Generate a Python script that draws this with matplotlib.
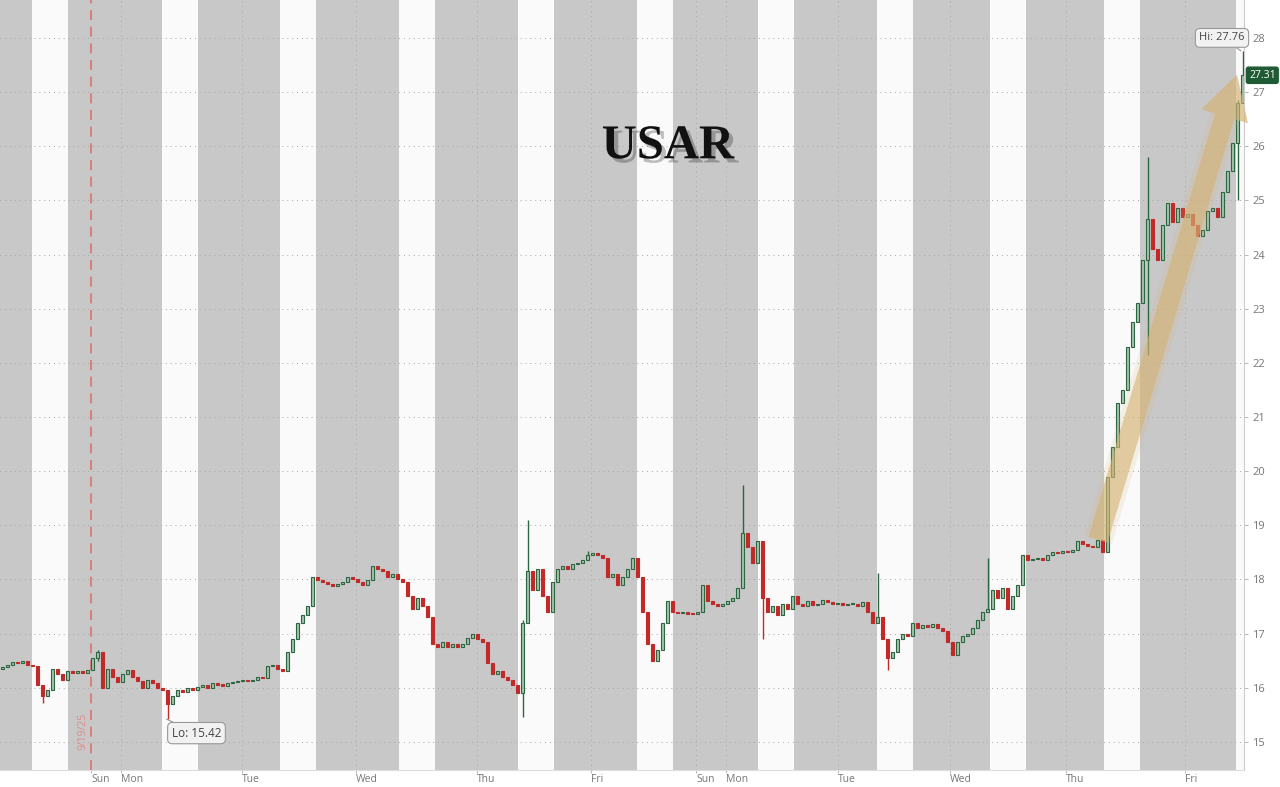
import numpy as np
import matplotlib
matplotlib.use("Agg")
import matplotlib.pyplot as plt
import matplotlib.patheffects as pe

# closing prices, one bar per interval (oldest first)
closes = [
    16.38, 16.42, 16.48, 16.45, 16.50, 16.42, 16.40, 16.05, 15.85, 15.95,
    16.35, 16.25, 16.15, 16.30, 16.28, 16.30, 16.27, 16.32, 16.55, 16.66,
    16.00, 16.35, 16.20, 16.10, 16.25, 16.32, 16.20, 16.12, 16.00, 16.15,
    16.08, 16.00, 15.95, 15.70, 15.85, 15.95, 15.92, 16.00, 15.95, 16.02,
    16.05, 16.00, 16.08, 16.05, 16.04, 16.08, 16.10, 16.12, 16.15, 16.13,
    16.15, 16.20, 16.18, 16.40, 16.42, 16.35, 16.30, 16.65, 16.90, 17.20,
    17.35, 17.50, 18.05, 17.98, 17.95, 17.92, 17.88, 17.92, 17.95, 18.05,
    18.00, 17.95, 17.90, 17.98, 18.25, 18.20, 18.15, 18.05, 18.10, 18.00,
    17.95, 17.70, 17.45, 17.65, 17.50, 17.30, 16.80, 16.75, 16.85, 16.75,
    16.80, 16.75, 16.80, 16.92, 17.00, 16.90, 16.85, 16.45, 16.25, 16.30,
    16.20, 16.15, 16.05, 15.90, 17.20, 18.15, 17.80, 18.20, 17.70, 17.40,
    17.95, 18.20, 18.25, 18.20, 18.28, 18.30, 18.35, 18.45, 18.48, 18.45,
    18.40, 18.05, 18.10, 17.90, 18.05, 18.20, 18.40, 18.05, 17.40, 16.80,
    16.50, 16.70, 17.20, 17.60, 17.40, 17.38, 17.38, 17.37, 17.36, 17.40,
    17.90, 17.60, 17.55, 17.50, 17.55, 17.60, 17.65, 17.85, 18.85, 18.60,
    18.30, 18.70, 17.65, 17.40, 17.50, 17.35, 17.55, 17.45, 17.70, 17.55,
    17.50, 17.60, 17.52, 17.55, 17.62, 17.58, 17.55, 17.57, 17.52, 17.55,
    17.55, 17.50, 17.58, 17.40, 17.20, 17.30, 16.90, 16.55, 16.65, 16.90,
    17.00, 16.95, 17.20, 17.10, 17.15, 17.12, 17.18, 17.10, 17.05, 16.85,
    16.60, 16.85, 16.95, 17.00, 17.10, 17.25, 17.40, 17.45, 17.80, 17.65,
    17.85, 17.45, 17.70, 17.90, 18.45, 18.35, 18.38, 18.40, 18.35, 18.45,
    18.50, 18.48, 18.52, 18.50, 18.55, 18.70, 18.65, 18.62, 18.60, 18.72,
    18.50, 19.90, 20.45, 21.25, 21.50, 22.30, 22.75, 23.10, 23.90, 24.65,
    24.10, 23.90, 24.55, 24.95, 24.60, 24.85, 24.70, 24.75, 24.55, 24.35,
    24.45, 24.80, 24.85, 24.70, 25.15, 25.55, 26.05, 26.80, 27.31,
]
first_open = 16.35

# notable wicks: bar -> (high, low)
wicks = {
    8: (15.95, 15.72), 19: (16.70, 16.50), 33: (15.95, 15.42),
    104: (17.25, 15.45), 105: (19.10, 17.20), 117: (18.52, 18.35),
    148: (19.75, 17.85), 152: (18.70, 16.90), 175: (18.12, 17.20),
    177: (16.90, 16.33), 197: (18.40, 17.40), 229: (25.80, 22.15),
    247: (26.85, 25.00), 248: (27.76, 26.80),
}

# regular-session (white) bands, in bar units
sessions = [(6.4, 13.6), (32.4, 39.6), (56.0, 63.2), (79.8, 87.0), (103.6, 110.8),
            (127.4, 134.6), (151.6, 158.8), (175.4, 182.6), (198.0, 205.2),
            (220.8, 228.0), (247.2, 248.8)]

day_pos = [18.2, 24.2, 48.4, 71.2, 95.4, 118.2, 139.2, 145.2, 167.6, 190.0, 213.2, 237.0]
day_lbl = ["Sun", "Mon", "Tue", "Wed", "Thu", "Fri", "Sun", "Mon", "Tue", "Wed", "Thu", "Fri"]
marker_pos = 18.2
marker_lbl = "9/19/25"
lo_bar, lo_val = 33, 15.42
hi_bar, hi_val = 248, 27.76
last_val = 27.31
arrow_from = (219.6, 18.73)
arrow_to = (247.4, 27.32)

up_edge = "#2a6640"
up_face = "#a3c2aa"
dn_col = "#c22a2a"

fig = plt.figure(figsize=(12.8, 7.87), dpi=100)
ax = fig.add_axes([0.0, 17 / 787, 1244 / 1280, 770 / 787])
ax.set_facecolor("#c8c8c8")
ax.set_xlim(0, 248.8)
ax.set_ylim(14.48, 28.70)

for a, b in sessions:
    ax.axvspan(a, b, color="#fafafa", zorder=0, lw=0)

for y in range(15, 29):
    ax.axhline(y, color="#a6a6a6", lw=0.7, ls=(0, (1, 4)), zorder=1)
for x in day_pos[1:]:
    ax.axvline(x, color="#a6a6a6", lw=0.7, ls=(0, (1, 4)), zorder=1)

ax.axvline(marker_pos, color="#e07070", lw=1.2, ls=(0, (6, 4)), zorder=2)
ax.text(marker_pos - 0.4, 0.05, marker_lbl, rotation=90, ha="right", va="center",
        color="#e08a8a", fontsize=7.5, family="Open Sans",
        transform=ax.get_xaxis_transform())

# candles
closes = np.array(closes)
opens = np.concatenate([[first_open], closes[:-1]])
xs = np.arange(len(closes)) + 0.5
for i, (o, c) in enumerate(zip(opens, closes)):
    hi, lo = wicks.get(i, (max(o, c), min(o, c)))
    up = c >= o
    col = up_edge if up else dn_col
    ax.vlines(xs[i], lo, hi, color=col, lw=1.0, zorder=3)
    h = max(abs(c - o), 0.02)
    ax.bar(xs[i], h, bottom=min(o, c), width=0.7,
           color=up_face if up else dn_col, edgecolor=col, lw=0.8, zorder=4)

# trend arrow, a few soft layers
for tw, al in [(1.6, 0.15), (1.1, 0.6)]:
    ax.annotate("", xy=arrow_to, xytext=arrow_from,
                arrowprops=dict(arrowstyle=f"simple,head_length=2.4,head_width=2.7,tail_width={tw}",
                                color="#d6b272", alpha=al, lw=0,
                                mutation_scale=13, shrinkA=0, shrinkB=0),
                zorder=5)

# title
ax.text(0.537, 0.81, "USAR", transform=ax.transAxes, ha="center", va="center",
        fontsize=35, fontweight="bold", family="Liberation Serif", color="#111111",
        path_effects=[pe.withSimplePatchShadow(offset=(3, -3), shadow_rgbFace="#000000", alpha=0.25)],
        zorder=6)

box = dict(boxstyle="round,pad=0.35,rounding_size=0.4", fc="#f2f2f2", ec="#999999", lw=0.8)
ax.annotate(f"Lo: {lo_val:.2f}", xy=(lo_bar + 0.3, lo_val), xytext=(30, -14),
            textcoords="offset pixels", ha="center", va="center", fontsize=8.5,
            family="Open Sans", color="#444444", bbox=box,
            arrowprops=dict(arrowstyle="-", color="#999999", lw=0.8, shrinkA=0, shrinkB=0),
            zorder=7)
ax.annotate(f"Hi: {hi_val:.2f}", xy=(hi_bar + 0.2, hi_val), xytext=(-19, 13),
            textcoords="offset pixels", ha="center", va="center", fontsize=8,
            family="Open Sans", color="#444444", bbox=box,
            arrowprops=dict(arrowstyle="-", color="#999999", lw=0.8, shrinkA=0, shrinkB=0),
            zorder=7)

ax.text(1.004, last_val, f"{last_val:.2f}", transform=ax.get_yaxis_transform(),
        ha="left", va="center", fontsize=7.5, family="Open Sans", color="white",
        bbox=dict(boxstyle="round,pad=0.25,rounding_size=0.2", fc="#1e5a34", ec="#1e5a34"),
        clip_on=False, zorder=8)

# axes styling
ax.yaxis.tick_right()
ax.set_yticks(range(15, 29))
ax.tick_params(axis="y", length=3, color="#bbbbbb", labelsize=8, labelcolor="#777777", pad=3)
for lab in ax.get_yticklabels():
    lab.set_family("Open Sans")
ax.set_xticks(day_pos)
ax.set_xticklabels(day_lbl, ha="left")
ax.tick_params(axis="x", length=2, color="#bbbbbb", labelsize=7.5, labelcolor="#777777", pad=1)
for lab in ax.get_xticklabels():
    lab.set_family("Open Sans")
for s in ["top", "left"]:
    ax.spines[s].set_visible(False)
ax.spines["right"].set_color("#cccccc")
ax.spines["bottom"].set_color("#dddddd")

fig.savefig("out.png", dpi=100)
